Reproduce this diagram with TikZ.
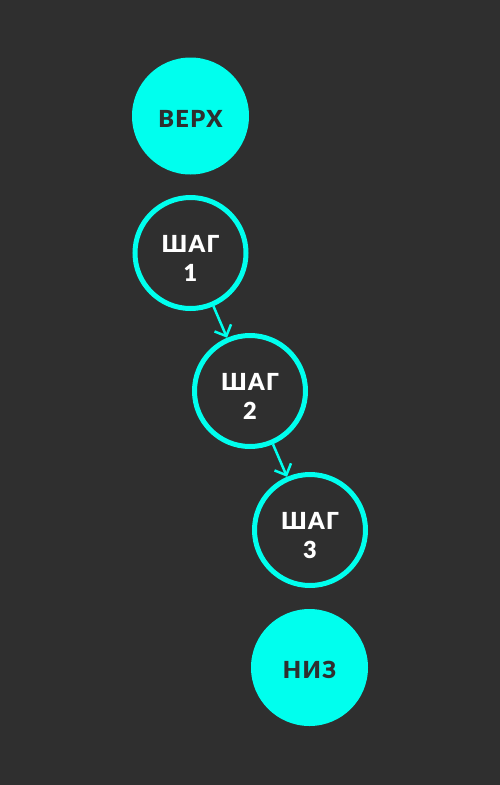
\documentclass[tikz,border=0pt]{standalone}
\usepackage{fontspec}
\setmainfont{Lato}[BoldFont={Lato Black}, LetterSpace=6]
\usetikzlibrary{arrows.meta}
\definecolor{bgdark}{RGB}{47,47,47}
\definecolor{tealc}{RGB}{0,255,238}
\newcommand{\downtext}[2][5pt]{\raisebox{-#1}[\height][\depth]{#2}}

\begin{document}
\begin{tikzpicture}[x=1pt,y=-1pt,
  endnode/.style={circle, fill=tealc, minimum size=117pt, inner sep=0pt,
    text=bgdark, font=\fontsize{23.5}{29}\selectfont\bfseries},
  stepnode/.style={circle, draw=tealc, line width=5pt, minimum size=111pt,
    inner sep=0pt, text=white,
    font=\fontsize{23.5}{29.5}\selectfont\bfseries},
  stepline/.style={-{Straight Barb[length=9pt,width=18pt]}, tealc, line width=2.5pt}]
\fill [bgdark] (0,0) rectangle (500,785);
\useasboundingbox (0,0) rectangle (500,785);
\node [endnode] (top) at (190.5,116) {\downtext[2.5pt]{ВЕРХ}};
\foreach \i/\x/\y in {1/190.5/253,2/250/391,3/310/530}
\node [stepnode] (s\i) at (\x,\y)
  {\downtext[8pt]{\begin{tabular}{@{}c@{}}ШАГ\\\i\end{tabular}}};
\node [endnode] (bottom) at (309.5,667.5) {\downtext[2.5pt]{НИЗ}};
\draw [stepline] (s1) -- (s2);
\draw [stepline] (s2) -- (s3);
\end{tikzpicture}
\end{document}
